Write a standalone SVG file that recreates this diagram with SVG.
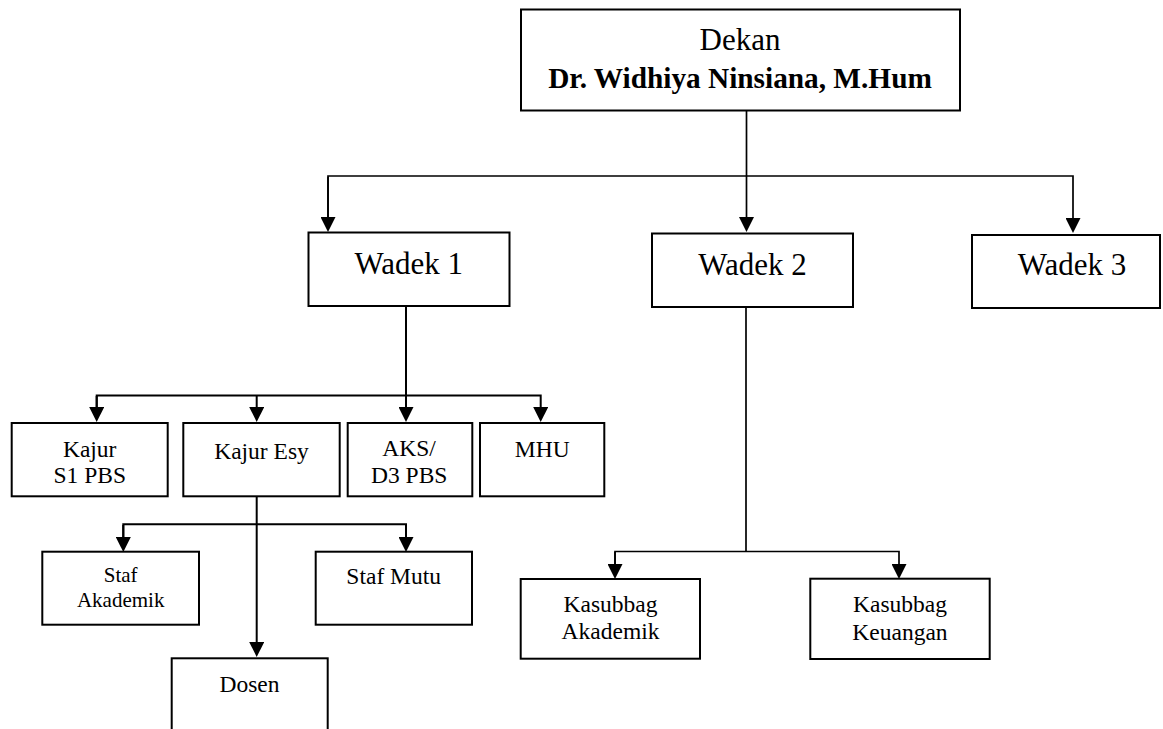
<svg xmlns="http://www.w3.org/2000/svg" width="1163" height="729" viewBox="0 0 1163 729">
<style>
.box{fill:#fff;stroke:#000;stroke-width:2}
.t{font-family:"Liberation Serif","Times New Roman",serif;fill:#000;text-anchor:middle}
.big{font-size:31px}
.mid{font-size:23.5px}
.sm{font-size:21px}
.ln{fill:none;stroke:#000;stroke-width:2}
.lt{fill:none;stroke:#000;stroke-width:1.7}
</style>
<defs>
<marker id="arr" markerWidth="15" markerHeight="15" refX="0" refY="7.5" orient="auto" markerUnits="userSpaceOnUse">
<path d="M0,0 L15,7.5 L0,15 z" fill="#000"/>
</marker>
</defs>
<rect width="1163" height="729" fill="#fff"/>
<g id="connectors">
<path class="lt" d="M746.5,111 V217" marker-end="url(#arr)"/>
<path class="lt" d="M328,217 V176 H1073 V218" marker-end="url(#arr)"/>
<path class="lt" d="M328,177 V217" marker-end="url(#arr)"/>
<path class="ln" d="M406,306 V407" marker-end="url(#arr)"/>
<path class="ln" d="M96.7,407 V395.5 H540.7 V407" marker-end="url(#arr)"/>
<path class="ln" d="M96.7,396 V407" marker-end="url(#arr)"/>
<path class="ln" d="M256.7,396 V407" marker-end="url(#arr)"/>
<path class="ln" d="M256.7,496.5 V642" marker-end="url(#arr)"/>
<path class="ln" d="M123.3,537 V524.3 H406 V537" marker-end="url(#arr)"/>
<path class="ln" d="M123.3,525 V537" marker-end="url(#arr)"/>
<path class="lt" d="M746,307 V551.5"/>
<path class="lt" d="M615,564 V551.5 H899 V564" marker-end="url(#arr)"/>
<path class="lt" d="M615,552 V564" marker-end="url(#arr)"/>
</g>
<g id="dekan">
<rect class="box" x="521" y="9.5" width="439" height="101"/>
<text class="t" x="740" y="50" font-size="31">Dekan</text>
<text class="t" x="740" y="87.5" font-size="29.3" font-weight="bold">Dr. Widhiya Ninsiana, M.Hum</text>
</g>
<g id="wadek1">
<rect class="box" x="308.5" y="232.5" width="201" height="73.5"/>
<text class="t big" x="408.7" y="274">Wadek 1</text>
</g>
<g id="wadek2">
<rect class="box" x="652" y="233.5" width="201" height="73.5"/>
<text class="t big" x="752.5" y="274.5">Wadek 2</text>
</g>
<g id="wadek3">
<rect class="box" x="972" y="235" width="188" height="73"/>
<text class="t big" x="1072" y="275">Wadek 3</text>
</g>
<g id="kajur-s1">
<rect class="box" x="11.7" y="423" width="156" height="73.3"/>
<text class="t mid" x="89.7" y="456.7">Kajur</text>
<text class="t mid" x="89.7" y="482.7">S1 PBS</text>
</g>
<g id="kajur-esy">
<rect class="box" x="183.3" y="423" width="156.4" height="73.3"/>
<text class="t mid" x="261.5" y="459">Kajur Esy</text>
</g>
<g id="aks">
<rect class="box" x="347.7" y="423" width="124.6" height="73.3"/>
<text class="t mid" x="409" y="456">AKS/</text>
<text class="t mid" x="409.2" y="482.7">D3 PBS</text>
</g>
<g id="mhu">
<rect class="box" x="480" y="423" width="124.3" height="73.3"/>
<text class="t mid" x="542.2" y="456.7">MHU</text>
</g>
<g id="staf-akademik">
<rect class="box" x="42.3" y="551.7" width="156.7" height="73"/>
<text class="t sm" x="120.7" y="581.7">Staf</text>
<text class="t sm" x="120.7" y="606.7">Akademik</text>
</g>
<g id="staf-mutu">
<rect class="box" x="315.7" y="551.7" width="156.3" height="73"/>
<text class="t mid" x="393.7" y="584.3">Staf Mutu</text>
</g>
<g id="dosen">
<rect class="box" x="171.7" y="658.3" width="156" height="90"/>
<text class="t mid" x="249.5" y="691.7">Dosen</text>
</g>
<g id="kasubbag-akademik">
<rect class="box" x="520.7" y="579" width="179.3" height="79.7"/>
<text class="t mid" x="610.5" y="611.7">Kasubbag</text>
<text class="t mid" x="610.5" y="639.3">Akademik</text>
</g>
<g id="kasubbag-keuangan">
<rect class="box" x="810.3" y="578.7" width="179.4" height="80.3"/>
<text class="t mid" x="900" y="612.3">Kasubbag</text>
<text class="t mid" x="900" y="640">Keuangan</text>
</g>
</svg>
